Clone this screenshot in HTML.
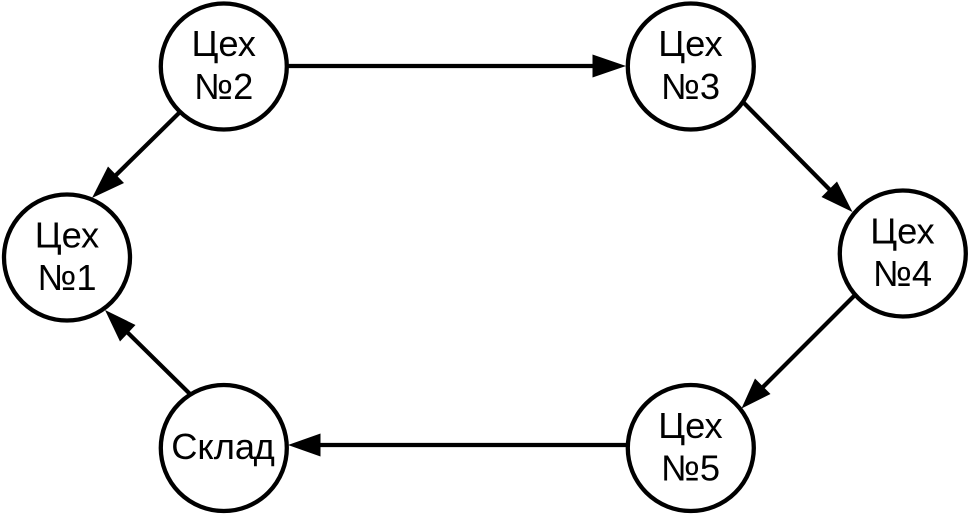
<!DOCTYPE html>
<html><head><meta charset="utf-8">
<style>
html,body{margin:0;padding:0;background:#fff;width:969px;height:516px;overflow:hidden}
svg{display:block}
text{font-family:"Liberation Sans",sans-serif;font-size:36.3px;fill:#000;text-anchor:middle}
circle{fill:#fff;stroke:#000;stroke-width:4.3}
line{stroke:#000;stroke-width:4.2}
polygon{fill:#000}
</style></head><body>
<svg width="969" height="516" viewBox="0 0 969 516" xmlns="http://www.w3.org/2000/svg">
<circle cx="223.8" cy="66.5" r="63"/>
<circle cx="690.8" cy="66.5" r="63"/>
<circle cx="67" cy="257.5" r="63"/>
<circle cx="902.8" cy="253.5" r="63"/>
<circle cx="223.8" cy="448" r="63"/>
<circle cx="690.8" cy="448" r="63"/>
<line x1="287" y1="66" x2="600" y2="66"/>
<polygon points="626,66 592.5,54.5 592.5,77.5"/>
<line x1="744" y1="103" x2="832" y2="192"/>
<polygon points="852.5,212 837,181.5 821.5,197"/>
<line x1="854" y1="296" x2="762" y2="388"/>
<polygon points="741.5,408.5 755,378.5 770.5,394"/>
<line x1="627" y1="445" x2="315" y2="445"/>
<polygon points="288,445 320.5,433.5 320.5,456.5"/>
<line x1="190" y1="394" x2="125" y2="330"/>
<polygon points="105,310 135.5,325 120,341.5"/>
<line x1="179" y1="113" x2="111" y2="180"/>
<polygon points="92,198 124,183 108,166.5"/>
<text x="223.7" y="56">Цех</text><text x="223.7" y="99">№2</text>
<text x="690.5" y="56">Цех</text><text x="690.5" y="99">№3</text>
<text x="67" y="247.5">Цех</text><text x="67" y="290">№1</text>
<text x="902.5" y="243.5">Цех</text><text x="902.5" y="286">№4</text>
<text x="223" y="459">Скла<tspan dx="-1.5">д</tspan></text>
<text x="690.5" y="438">Цех</text><text x="690.5" y="480.5">№5</text>
</svg>
</body></html>
